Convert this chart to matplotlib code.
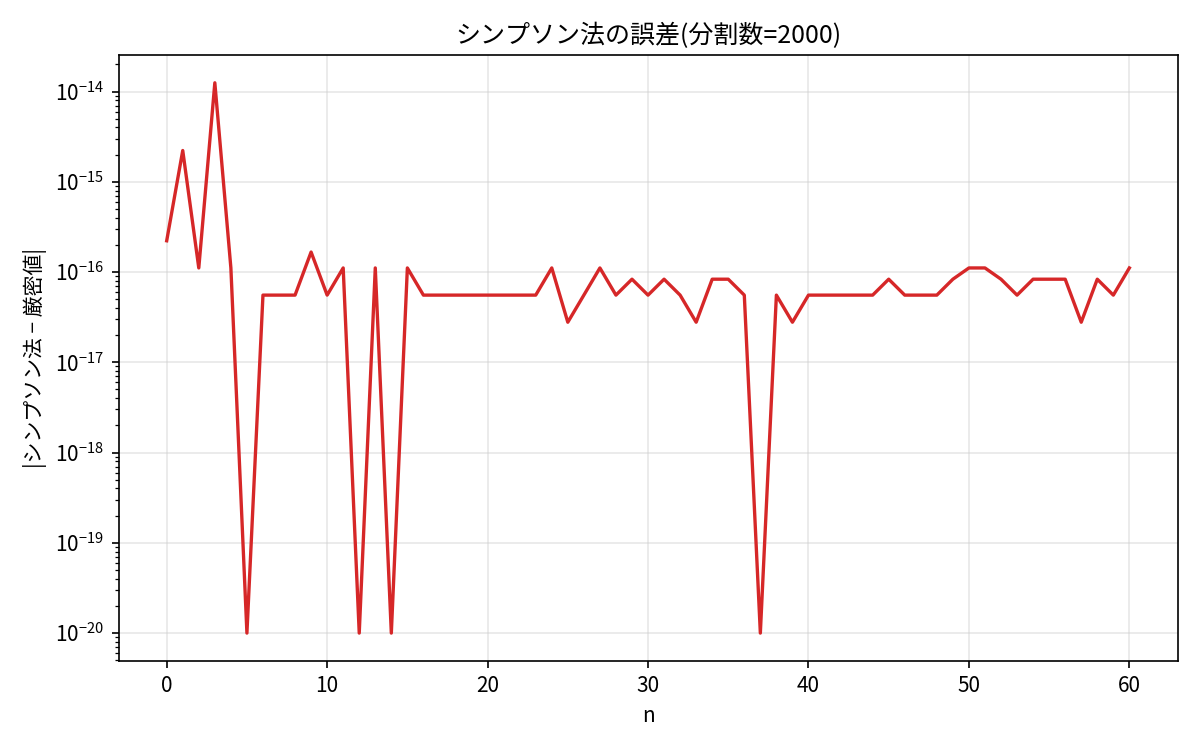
import matplotlib
matplotlib.use("Agg")
import matplotlib.pyplot as plt

plt.rcParams['font.family'] = ['Noto Sans CJK JP', 'DejaVu Sans']

# |Simpson - exact| for n = 0..60 (zeros drawn at 1e-20)
n_values = list(range(61))
errors = [
    2.22e-16, 2.22e-15, 1.11e-16, 1.25e-14, 1.11e-16,
    1e-20, 5.55e-17, 5.55e-17, 5.55e-17, 1.665e-16,
    5.55e-17, 1.11e-16, 1e-20, 1.11e-16, 1e-20,
    1.11e-16, 5.55e-17, 5.55e-17, 5.55e-17, 5.55e-17,
    5.55e-17, 5.55e-17, 5.55e-17, 5.55e-17, 1.11e-16,
    2.78e-17, 5.55e-17, 1.11e-16, 5.55e-17, 8.33e-17,
    5.55e-17, 8.33e-17, 5.55e-17, 2.78e-17, 8.33e-17,
    8.33e-17, 5.55e-17, 1e-20, 5.55e-17, 2.78e-17,
    5.55e-17, 5.55e-17, 5.55e-17, 5.55e-17, 5.55e-17,
    8.33e-17, 5.55e-17, 5.55e-17, 5.55e-17, 8.33e-17,
    1.11e-16, 1.11e-16, 8.33e-17, 5.55e-17, 8.33e-17,
    8.33e-17, 8.33e-17, 2.78e-17, 8.33e-17, 5.55e-17,
    1.11e-16,
]

fig, ax = plt.subplots(figsize=(8, 5), dpi=150)

ax.plot(n_values, errors, color='#d62728', linewidth=1.6)
ax.set_yscale('log')
ax.grid(True, color='#cccccc', alpha=0.45, linewidth=0.8)

ax.set_title("シンプソン法の誤差(分割数=2000)", fontsize=12)
ax.set_xlabel("n")
ax.set_ylabel("|シンプソン法 − 厳密値|")

fig.tight_layout()
fig.savefig("out.png", dpi=150)
